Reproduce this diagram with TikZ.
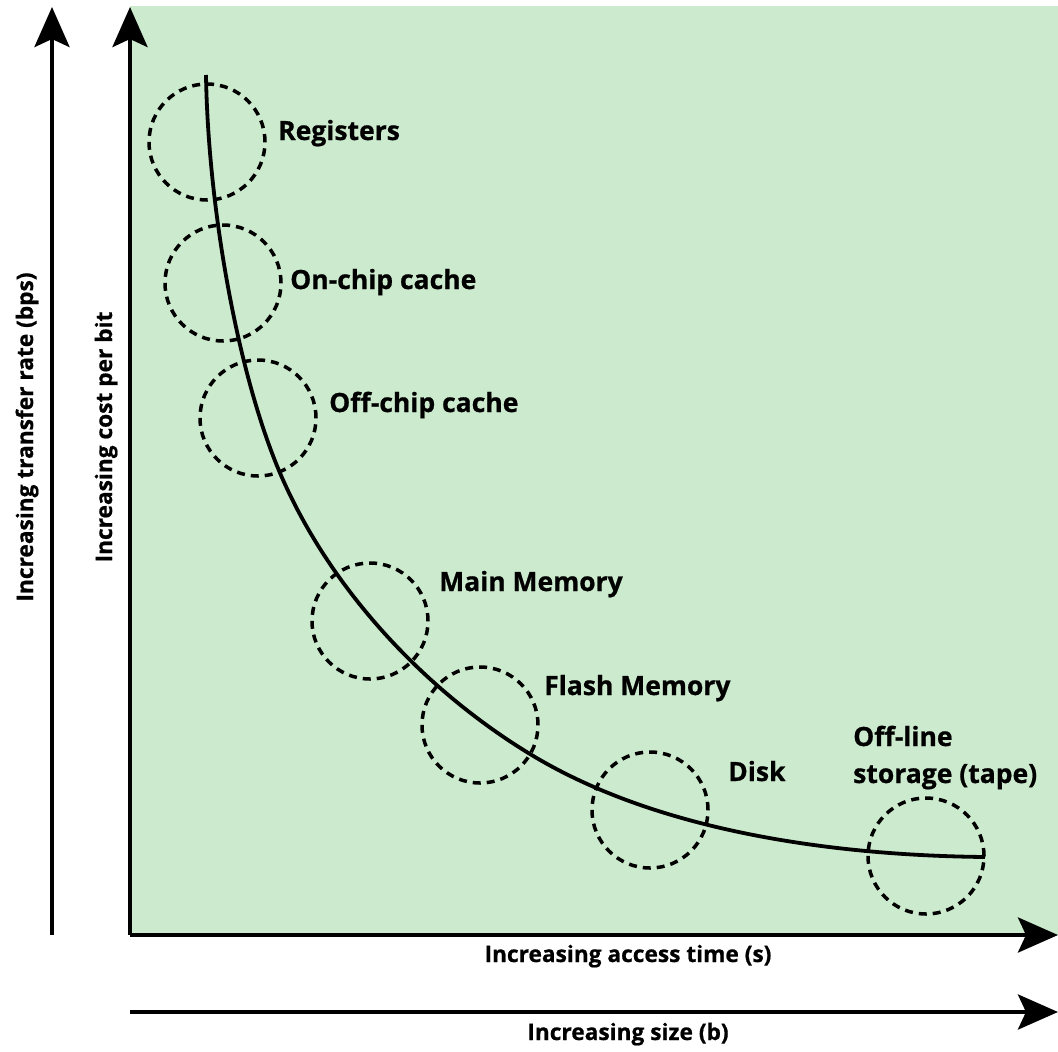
\documentclass[tikz,border=0pt]{standalone}
\usepackage{fontspec}
\setsansfont{Open Sans}[BoldFeatures={FakeBold=0.7}]
\usetikzlibrary{arrows.meta}
\definecolor{panelgreen}{RGB}{204,234,205}
\tikzset{
  lbl/.style={font=\sffamily\bfseries\fontsize{26.5}{37}\selectfont, inner sep=0pt, text=black},
  axlbl/.style={font=\sffamily\bfseries\fontsize{22.7}{28}\selectfont, inner sep=0pt, text=black},
  level/.style={circle, draw=black, line width=3.5pt, dash pattern=on 8pt off 6pt, minimum size=116pt, inner sep=0pt},
  axis/.style={line width=4.5pt, -{Stealth[length=40pt,width=35pt,inset=8pt]}},
  curve/.style={line width=3.8pt}
}
\begin{document}
\begin{tikzpicture}[x=1pt,y=-1pt]
\useasboundingbox (0,0) rectangle (1058,1052);
% shaded panel behind the curve
\fill[panelgreen] (130,6) rectangle (1058,935);

% memory levels
\node[level] (reg)   at (207,142) {};
\node[level] (onc)   at (223,283) {};
\node[level] (offc)  at (258,418) {};
\node[level] (mem)   at (370,621) {};
\node[level] (flash) at (480,725) {};
\node[level] (disk)  at (650,810) {};
\node[level] (tape)  at (926,856) {};

% cost / access-time trade-off curve
\coordinate (c0) at (206,75);
\coordinate (c1) at (280,473);
\coordinate (c2) at (530,754);
\coordinate (c3) at (985,857);
\draw[curve] (c0) .. controls (208,205) and (237,372) .. (c1)
                  .. controls (331,592) and (428,692) .. (c2)
                  .. controls (658,832) and (835,855.5) .. (c3);

% level labels
\node[lbl, anchor=base west] (treg)   at (278,140) {Registers};
\node[lbl, anchor=base west] (tonc)   at (290,289) {On-chip cache};
\node[lbl, anchor=base west] (toffc)  at (329,412) {Off-chip cache};
\node[lbl, anchor=base west] (tmem)   at (439,591) {Main Memory};
\node[lbl, anchor=base west] (tflash) at (544,695) {Flash Memory};
\node[lbl, anchor=base west] (tdisk)  at (728,781) {Disk};
\node[lbl, anchor=base west] (ttape1) at (853,746) {Off-line};
\node[lbl, anchor=base west] (ttape2) at (853,783) {storage (tape)};

% axes
\coordinate (o)   at (130,935);
\coordinate (ytop) at (130,7);
\coordinate (xend) at (1058,935);
\coordinate (lo)  at (52,935);
\coordinate (ltop) at (52,7);
\coordinate (bo)  at (130,1012);
\coordinate (bend) at (1058,1012);
\draw[axis] (o) -- (ytop);
\draw[axis] (o) -- (xend);
\draw[axis] (lo) -- (ltop);
\draw[axis] (bo) -- (bend);

% axis labels
\node[axlbl, anchor=base] (tx)  at (628,962) {Increasing access time (s)};
\node[axlbl, anchor=base] (tsz) at (628,1040) {Increasing size (b)};
\node[axlbl, anchor=base, rotate=90] (trate) at (33,437) {Increasing transfer rate (bps)};
\node[axlbl, anchor=base, rotate=90] (tcost) at (112,437) {Increasing cost per bit};
\end{tikzpicture}
\end{document}
